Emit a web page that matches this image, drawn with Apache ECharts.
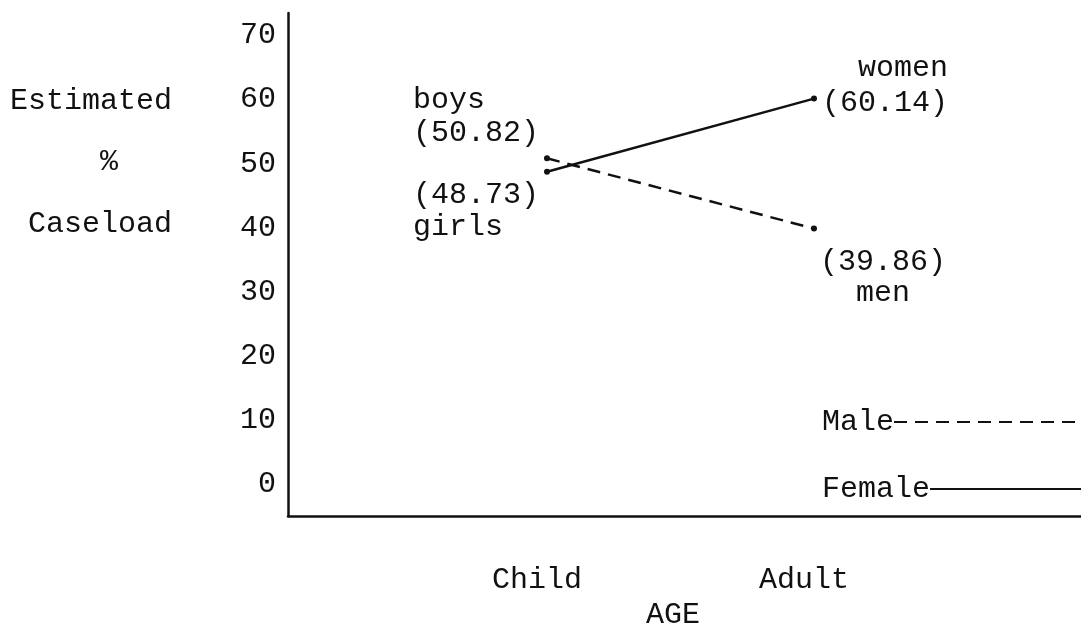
<!DOCTYPE html>
<html>
<head>
<meta charset="utf-8">
<title>Estimated % Caseload by AGE</title>
<script src="https://cdn.jsdelivr.net/npm/echarts@6/dist/echarts.min.js"></script>
<style>
  html, body { margin: 0; padding: 0; background: #fff; }
  #chart { width: 1081px; height: 623px; }
</style>
</head>
<body>
<div id="chart"></div>
<script>
// data
var categories = ['Child', 'Adult'];
var maleValues = [50.82, 39.86];
var femaleValues = [48.73, 60.14];
var maleNames = ['boys', 'men'];
var femaleNames = ['girls', 'women'];
var yTicks = [0, 10, 20, 30, 40, 50, 60, 70];

var FONT = "'Liberation Mono', 'Courier New', 'DejaVu Sans Mono', monospace";
var INK = '#111';

function tag(v) {
	return '(' + v.toFixed(2) + ')';
}

// label text + placement for each point (name above or below the value)
var maleLabels = [
	{ text: maleNames[0] + '\n' + tag(maleValues[0]), position: [-131, -72], align: 'left', lineHeight: 33 },
	{ text: tag(maleValues[1]) + '\n' + maleNames[1], position: [72, 21], align: 'center', lineHeight: 31 }
];
var femaleLabels = [
	{ text: tag(femaleValues[0]) + '\n' + femaleNames[0], position: [-131, 10], align: 'left', lineHeight: 32 },
	{ text: femaleNames[1] + '\n' + tag(femaleValues[1]), position: [137, -45], align: 'right', lineHeight: 35 }
];

function points(values, labels) {
	return values.map(function (v, i) {
		return {
			value: [i + 1, v],
			label: {
				show: true,
				formatter: labels[i].text,
				position: labels[i].position,
				align: labels[i].align,
				verticalAlign: 'top',
				lineHeight: labels[i].lineHeight,
				fontFamily: FONT,
				fontSize: 30,
				color: INK
			}
		};
	});
}

// one legend per series so both texts start at the same x
function legendFor(name, top) {
	return {
		orient: 'vertical',
		left: 817,
		top: top,
		align: 'right',
		itemWidth: 200,
		itemHeight: 30,
		selectedMode: false,
		itemStyle: { opacity: 0 },
		textStyle: { fontFamily: FONT, fontSize: 30, color: INK, lineHeight: 30, padding: [0, -5, 0, 0] },
		data: [name]
	};
}

var chart = echarts.init(document.getElementById('chart'), null, { renderer: 'canvas' });

var option = {
	animation: false,
	backgroundColor: '#fff',
	textStyle: { fontFamily: FONT, color: INK },
	grid: { left: 288, right: 0, top: 13, bottom: 107, containLabel: false, outerBoundsMode: 'none' },
	legend: [
		legendFor('Male', 402),
		legendFor('Female', 469)
	],
	graphic: [
		{
			type: 'text',
			left: 10,
			top: 70,
			style: {
				text: 'Estimated\n     %\n Caseload',
				font: '30px ' + FONT,
				fill: INK,
				lineHeight: 61.5
			}
		}
	],
	xAxis: {
		type: 'value',
		min: 0.03,
		max: 3,
		name: 'AGE',
		nameLocation: 'middle',
		nameGap: 76,
		nameTextStyle: { fontFamily: FONT, fontSize: 30, color: INK, padding: [0, 23, 0, 0] },
		axisLine: { show: true, onZero: false, lineStyle: { color: INK, width: 2.5 } },
		axisTick: { show: false },
		splitLine: { show: false },
		axisLabel: {
			customValues: [1, 2],
			formatter: function (v) { return categories[Math.round(v) - 1] || ''; },
			margin: 49,
			fontFamily: FONT,
			fontSize: 30,
			color: INK,
			padding: [0, 20, 0, 0]
		}
	},
	yAxis: {
		type: 'value',
		min: -5,
		max: 73.5,
		axisLine: { show: true, onZero: false, lineStyle: { color: INK, width: 2.5 } },
		axisTick: { show: false },
		splitLine: { show: false },
		axisLabel: {
			customValues: yTicks,
			formatter: function (v) { return String(v); },
			margin: 12,
			fontFamily: FONT,
			fontSize: 30,
			color: INK
		}
	},
	series: [
		{
			name: 'Male',
			type: 'line',
			data: points(maleValues, maleLabels),
			symbol: 'circle',
			symbolSize: 6,
			itemStyle: { color: INK },
			lineStyle: { color: INK, width: 2.5, type: [13, 8] }
		},
		{
			name: 'Female',
			type: 'line',
			data: points(femaleValues, femaleLabels),
			symbol: 'circle',
			symbolSize: 6,
			itemStyle: { color: INK },
			lineStyle: { color: INK, width: 2.5, type: 'solid' }
		}
	]
};

chart.setOption(option);
</script>
</body>
</html>
